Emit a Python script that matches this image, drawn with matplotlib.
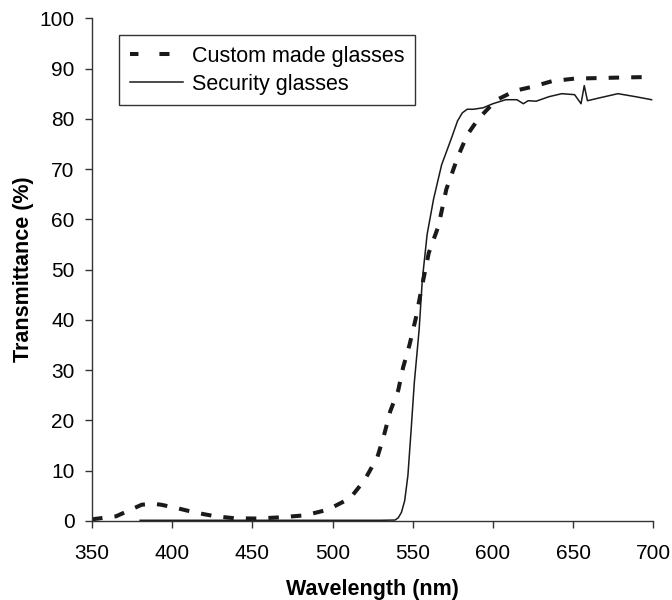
import matplotlib
matplotlib.use("Agg")
import matplotlib.pyplot as plt
from matplotlib.lines import Line2D

plt.rcParams['font.family'] = ['Liberation Sans', 'DejaVu Sans']

# transmittance curves
custom_nm = [350, 365, 374, 381, 388, 393, 402, 411, 420, 427, 439, 453, 468, 483, 497,
             511, 520, 528, 532, 536, 541, 544, 548, 552, 556, 560, 566, 571, 578, 584,
             591, 602, 614, 625, 637, 651, 665, 678, 694, 700]
custom_t = [0.3, 0.9, 2.2, 3.2, 3.4, 3.2, 2.6, 1.9, 1.3, 0.9, 0.5, 0.45, 0.7, 1.1, 2.2,
            4.5, 8.1, 12.7, 16.9, 21.8, 26.0, 30.5, 35.0, 40.4, 47.0, 53.3, 58.6, 66.0, 72.3, 76.8,
            80.0, 83.7, 85.6, 86.4, 87.5, 88.0, 88.1, 88.2, 88.3, 88.3]

security_nm = [380, 420, 460, 500, 530, 539, 541, 543, 545, 547, 549, 551, 554, 556, 559, 563, 568,
               574, 578, 581, 584, 588, 594, 600, 608, 615, 619, 622, 627, 635, 643, 651,
               655, 657, 659, 667, 678, 689, 699]
security_t = [0.1, 0.1, 0.1, 0.1, 0.1, 0.15, 0.6, 1.7, 4.0, 9.0, 18.0, 27.5, 38.0, 48.0, 57.0, 64.0, 70.8,
              76.0, 79.6, 81.2, 81.9, 81.9, 82.2, 83.0, 83.8, 83.8, 83.0, 83.6, 83.5, 84.4, 85.0, 84.8,
              83.0, 86.6, 83.6, 84.2, 85.0, 84.4, 83.8]

x_ticks = [350, 400, 450, 500, 550, 600, 650, 700]
y_ticks = [0, 10, 20, 30, 40, 50, 60, 70, 80, 90, 100]

fig = plt.figure(figsize=(6.72, 6.0), dpi=100)
ax = fig.add_axes([0.137, 0.132, 0.835, 0.8375])

ax.plot(custom_nm, custom_t, color='#1a1a1a', lw=2.9, dashes=(2.6, 3.0))
ax.plot(security_nm, security_t, color='#1a1a1a', lw=1.1)

ax.set_xlim(350, 700)
ax.set_ylim(0, 100)
ax.set_xticks(x_ticks)
ax.set_yticks(y_ticks)
ax.tick_params(labelsize=15, length=5, width=1, color='#333333')
ax.tick_params(axis='x', pad=11.5)
ax.tick_params(axis='y', pad=7.5)

for s in ['top', 'right']:
    ax.spines[s].set_visible(False)
for s in ['left', 'bottom']:
    ax.spines[s].set_color('#333333')
    ax.spines[s].set_linewidth(1)

ax.set_xlabel('Wavelength (nm)', fontsize=15.5, fontweight='bold', labelpad=12)
ax.set_ylabel('Transmittance (%)', fontsize=15.5, fontweight='bold', labelpad=4)

handles = [Line2D([], [], color='#1a1a1a', lw=2.9, linestyle=(0.4, (2.5, 5.2))),
           Line2D([], [], color='#1a1a1a', lw=1.1)]
leg = fig.legend(handles, ['Custom made glasses', 'Security glasses'],
                 loc='upper left', bbox_to_anchor=(119 / 672, 1 - 35 / 600),
                 fontsize=15.5, frameon=True, fancybox=False, edgecolor='black',
                 handlelength=2.45, borderpad=0.5, labelspacing=0.32, handletextpad=0.42,
                 borderaxespad=0)
leg.get_frame().set_linewidth(1)

fig.savefig('out.png', dpi=100)
